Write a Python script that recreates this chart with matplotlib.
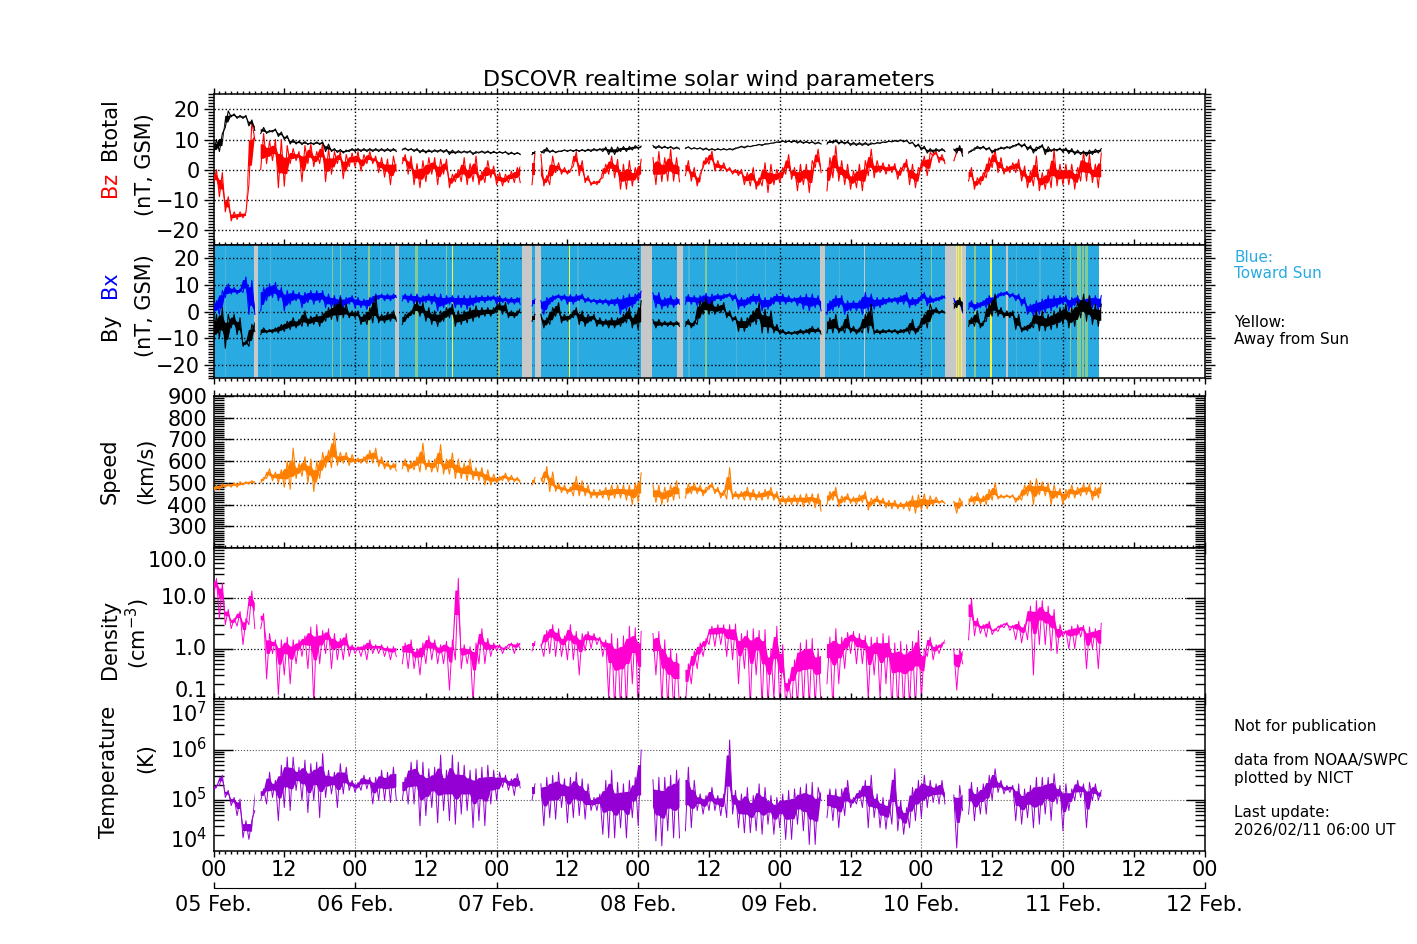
import numpy as np
import matplotlib
matplotlib.use("Agg")
import matplotlib.pyplot as plt
from matplotlib.ticker import MultipleLocator, FixedLocator, NullFormatter, LogLocator

W, H = 1417, 944
hours = np.arange(0, 151)
gaps = [(7.0,7.6),(31.1,31.6),(52.3,53.9),(54.8,55.4),(72.8,74.4),(79.1,79.7),(103.1,103.6),(124.2,125.4),(127.3,127.8)]

bt_lo = [5,6,14,17.5,17,17,14.5,13,12,12, 12.5,11,10,8.5,8.5,8.3,8.3,8.3,8.3,6, 6,5.7,5.5,6,6,6,6,6,6,6,
         6,6,6.5,6.3,6,5.6,5.5,5.7,5.8,5.7, 5,5.3,5.5,5.5,5,5.5,5.4,5.3,5.4,5.4, 5,5,5,5,5,5,5.5,5.7,5.6,6,
         6,6,6,6,6,6.2,6,5,5,6, 6,6.5,7,7,7,7,7,7,6.8,6.8, 7,6.8,6.8,6.5,6.4,6.4,6.5,6.5,6.5,7.2,
         7.2,7.6,8,8,8.5,8.8,9,9,9,8.8, 8.7,8.7,8.5,8.5,8.5,8.8,8.5,8.5,8,8, 8,8,8.5,8.7,9,9.2,9.3,9.2,8.6,7.5,
         6.5,5.5,5.7,6,6,6,5.5,4.5,5.5,6.5, 6.8,6.5,5.5,6.5,6.8,7,7.8,7.5,6.5,5.5, 7,5,6,6.2,5.8,5.3,5,5,4.5,5, 5.5]
bt_hi = [10,12,19.5,18.5,18,18,16.5,15,14,13, 13.5,12.5,11.3,10,9.5,9.3,9,9.2,9.2,8.5, 7,6.7,6.5,7,7,7,7,7,7,7,
         7,7,7.2,7,7,6.7,6.6,6.6,6.7,6.7, 6.5,6.3,6.2,6.3,6,6.2,6.2,6.1,6,6, 5.8,5.7,5.7,5.7,6,6,7.3,6.5,6.2,6.6,
         6.6,6.7,6.7,6.8,7,7,7.5,7.5,7.5,7.7, 7.7,8,7.8,7.8,8,8,7.8,7.7,7.5,7.5, 7.6,7.3,7.3,7.2,7,7,7,7,7.2,7.8,
         7.9,8,8.4,8.6,8.8,9.2,9.6,9.6,9.7,9.6, 9.4,9.3,9.1,9,9.6,9.9,9.5,9.4,9.1,9, 9,8.9,9,9.2,9.5,9.7,9.9,9.8,9.1,8.5,
         7.8,7,7,7,6.8,6.8,8,8.2,6.5,7.8, 7.8,7.4,6.8,7.5,7.7,8,8.8,8.6,8,7.5, 8.3,7.6,7,7.2,7.2,7,6.5,6.2,6.5,6.8, 7]
bz_lo = [-5,-9,-14,-17,-16.5,-16,-5,10,0,2, 3,-6,-5.5,2,3,-4,2,1,2,-4, -1.5,2,-3,1,1,-.5,2,2,-1,-2.5,
         -5,-.5,2,-1.5,-5,-6,-4,-1.5,-5,-1.5, -6,-4,-4,-5,-4,-5,-4.3,-2.7,-5,-5.4, -4.3,-4.3,-4.3,-4,-5,-5,-5.4,-5,-1,-1.5,
         -1.5,1.2,-2,-4.3,-5.2,-5,-2.7,-1.5,-2.7,-6.5, -6.5,-5.4,-3.8,-4,-4,-5,-4,-3.8,-3.8,-4, -2,-3.8,-5.4,.7,1.8,-.4,-.4,-.7,-1.5,-2,
         -5,-5.4,-6.5,-5.4,-7.6,-5,-4.3,-1.5,-3.2,-7, -5,-7.6,.7,-1,-7,-2.7,-3.8,-5,-6.5,-6, -7,-2,-2.7,-1,-1.5,-1,-3.2,-.4,-5,-6,
         -.4,-2,4.5,2.3,2,2,5.7,5.5,-3.8,-6.5, -5,-2.7,.7,-1,-1.5,-1,-1,-3.8,-6,-5.4, -7,-6.5,-6,-5.4,-5,-5,-6.5,-3.8,-3.8,-4.3, -6]
bz_hi = [0,-1,-9,-14,-14,-14,16,12,12,9.5, 10,10,8,7,6,8,8.5,6,9,7, 6,6,5,5.5,6,5,6,4.5,4,3.5,
         4.5,3,5,4.5,2,3,4,4,3.5,3.5, -1.5,0,4,2,4.5,-.5,3,1.2,-1,-1.5, -.5,.7,4,4,5.5,5,-2,4.5,2.3,.7,
         0,6,3,-2,-3.8,-3.2,1.8,4.5,3.4,1.8, 3,.7,3.4,4,4,6,4,6.8,4,3, 3,.7,-1.5,4,6.2,3,2.3,.7,.1,.1,
         -1,.7,-2.7,2.3,1.8,.1,.7,5,.7,1.8, 1.8,3,6.8,1.8,4,7.9,3,1.8,-.4,1.8, 3,6.8,3,2.3,1.8,2,.7,3.4,1.8,.7,
         4.5,5.7,6.2,5,3.8,3,7.3,7.3,.7,-2.7, -1,4,6.8,4,1.2,2.3,3.4,1.2,-.4,4.5, -1,.1,6.8,1.8,1.8,1.8,.7,6,5,1.8, 5.5]
bx_lo = [-1,-1,5.3,6.6,6.6,7.2,-1,-1,.3,4.1, 5.3,4.1,.3,2.8,4.1,1.5,3.4,2.8,3.4,1.5, 1.5,-1,1.5,2.8,1.5,1.5,.9,2.8,4.7,4.1,
         4.1,5.3,4.1,3.4,2.8,2.8,3.4,2.8,.3,1.5, 2.8,1.5,1.5,.9,2.2,3.4,3.4,4.1,2.8,3.4, 2.8,2.8,2.8,2.2,2.2,.3,-1,2.8,4.7,4.1,
         2.8,2.8,4.1,3.4,3.4,2.8,2.8,2.2,2.2,-1, .3,1.5,4.1,4,4,1.5,.9,1.5,1.5,2.8, 2.8,2.8,2.2,2.8,1.5,4.1,4.1,5.3,4.1,.9,
         1.5,2.8,2.8,.3,.9,2.8,2.8,2.8,3.4,2.2, .9,.3,1.5,.3,-1,.3,1.5,-1,.3,.3, -1,.3,.9,1.5,2.8,3.4,2.8,2.8,1.5,2.2,
         4.1,2.2,3.4,4.1,5.1,3,2.2,-.4,.9,.3, 1.5,1.5,2.8,5.3,6,5.3,4.1,2.2,-1,-1.7, -1,-.4,.3,1.5,2.8,.3,2.2,.3,.3,1.5, .3]
bx_hi = [4.1,7.9,10.4,9.1,8.5,13,11.7,2.8,9.1,10.4, 11,9.1,7.9,7.9,7.2,7.2,7.9,7.9,7.9,6.6, 6,6,5.3,6,5.3,4.7,5.3,6.6,6.6,6.6,
         6.6,6.6,6.6,6.6,6.6,6,6.6,6.6,6.6,6, 6,6,6,6,6,6,6,6,6,5.3, 5.3,5.3,6,4.7,4.7,4.1,5.3,6,6.4,6.4,
         6.4,6.4,6.6,5.3,4.7,4.7,4.7,4.7,5.3,6, 6.6,6.6,7.6,7,7,7.2,5.3,6,5.3,5.3, 6.4,6,6,6.9,6.6,6.6,6.6,6.9,6.6,5.3,
         5.3,6.6,6.6,5.3,5.3,6.6,6.6,6,5.3,6, 6.6,6.6,6,4.7,4.1,6,6,4.1,4.1,4.1, 7.2,6.6,5.3,5.3,5.3,5.3,6,7.2,5.3,5.3,
         7.2,6,5.3,6,6.4,5,4.1,4.7,4.1,3.4, 4.1,6,6,7.2,7.6,6.9,6.6,5.3,2.8,4.1, 4.7,6,6,6,6,5.3,6,5.3,6,6, 6]
by_lo = [-11.2,-9.9,-13.7,-6.1,-8.6,-13,-13,-7.4,-8.6,-8, -8,-8,-7.4,-6.7,-6.1,-5.5,-5.5,-4.8,-5.5,-3.6, -2.9,-3.6,-2.3,-2.3,-2.3,-4.8,-4.8,-4.2,-4.2,-4.2,
         -3.6,-3.6,-4.8,-2.3,-1,-1.7,-3.6,-4.8,-5.5,-3.6, -2.3,-5.5,-4.8,-4.2,-3.6,-2.3,-1.7,-1.7,-.4,-1, -2.3,-2.3,-.4,-2,-3.6,-2.9,-6.1,-4.8,-1.7,-4.2,
         -3.6,-2.3,-4.8,-5.5,-3.6,-5.5,-5.5,-6.1,-6.1,-5.5, -4.2,-6.1,-6.7,-5,-5,-6.1,-5.5,-5.5,-5.5,-5.5, -5.5,-6.1,-4.8,-1,-1,-1,-.4,-2.3,-3.6,-7.4,
         -7.4,-5.5,-4.8,-8,-8,-8,-8.4,-8.6,-8.6,-8.6, -8.4,-8.4,-8,-8.4,-8,-8,-8,-8,-8,-8.4, -8,-8,-8.4,-8.4,-8,-8,-8.4,-8,-8.4,-8.4,
         -6.1,-6.1,-1,-.8,-.5,0,1.5,.3,-5.5,-5.5, -6.1,-3.6,-1.7,-1.7,-2.3,-2.3,-6.7,-7.6,-7.2,-6.1, -7.2,-7.2,-6.7,-6.1,-4.8,-6.1,-5.5,-2.3,-3.6,-4.8, -5.5]
by_hi = [-1,1.5,-1,-1,-2.3,-11,-4.8,-2.3,-6.1,-6.7, -6.1,-4.8,-3.6,-2.3,-2.9,.3,-1.7,-1,-.4,1.5, 2.8,5.3,2.8,.3,.3,-1,1.5,6,-1,-.4,
         .3,-1.7,-1,.3,4.1,3.4,1.5,.3,.3,1.5, 2.8,.3,.3,1.5,2.2,1.5,1.5,1.5,3.4,3.4, .3,.3,2.2,0,-1,-1,-2.3,1.5,3.4,-1,
         -1,1.5,.3,-1,-1,-2.3,-2.9,-2.3,-2.3,-1, 1.5,-1,4.1,-3,-3,-2.9,-3.6,-3.6,-3.6,-3.6, -2.9,-3.6,4.1,5.3,4.1,2.8,3.4,.3,-1.7,-2.3,
         -2.3,.3,3.4,.9,.3,-4.8,-6.7,-7.4,-7.4,-6.7, -6.7,-5.5,-6.1,-6.7,-2.3,-1,-5.5,-1,-5.5,-6.1, -1,2.8,-6.7,-6.7,-6.7,-6.7,-6.7,-6.1,-2.9,-5.5,
         -1,2.8,1.5,.5,.2,3,5.3,4.7,-2.3,.3, -3.6,2.8,6.6,1.5,.3,.3,-1,-5.5,-4.2,.3, .3,-1,.3,1.5,2.8,1.5,4.1,6.6,6,2.8, 2.8]
speed_lo = [460,470,480,480,480,490,495,495,500,520, 510,500,480,470,520,530,500,460,520,570, 570,580,590,580,590,590,590,590,575,565,
            560,555,565,550,560,550,560,550,550,540, 540,520,520,510,515,510,490,490,500,510, 505,505,500,490,490,495,500,460,460,455,
            450,440,440,440,430,430,430,420,430,430, 420,400,410,410,410,410,400,410,420,430, 430,450,450,440,470,450,430,425,425,425,
            420,420,420,420,425,420,400,400,400,400, 390,400,385,370,400,420,390,410,405,400, 410,375,400,395,385,380,380,380,370,360,
            375,380,395,405,405,405,360,395,400,400, 400,400,420,425,430,430,410,420,440,400, 445,440,400,430,400,430,430,440,445,420, 430]
speed_hi = [490,495,495,500,505,505,510,515,525,565, 550,560,600,660,590,620,610,600,640,650, 730,640,640,630,615,620,650,660,620,600,
            590,610,610,600,620,683,605,610,676,610, 638,610,590,610,570,570,560,540,530,545, 535,525,520,525,525,520,575,550,500,490,
            480,530,510,490,470,470,480,490,490,490, 490,500,546,490,490,490,480,490,510,490, 495,500,490,480,500,480,465,570,460,460,
            480,470,460,470,480,460,440,440,445,445, 450,450,450,440,460,480,440,450,435,445, 460,430,440,430,420,420,410,415,440,445,
            450,440,435,420,415,415,430,430,440,455, 440,470,500,445,445,445,440,490,510,520, 505,500,490,475,470,490,480,495,495,480, 500]
dens_lo = [10,4,3,2.5,2.8,1.2,3,2.5,2.5,.25, .8,.12,.3,.2,.5,.7,.4,.08,.5,.8, .4,.6,.6,.7,.8,.7,.6,.8,.8,.7,
           .6,.7,.5,.4,.4,.3,.5,.6,.5,.5, .15,.6,.4,.5,.08,.5,.5,.7,.9,.8, 1,.8,1,.9,.9,.9,.7,.8,.7,.7,
           .6,.6,.3,.9,1,1.2,.7,.1,.06,.06, .06,.2,.06,.3,.3,.3,.08,.07,.06,.07, .08,.2,.4,.7,1.2,1.1,1.2,.7,.6,.2,
           .4,.07,.3,.07,.07,.1,.07,.07,.07,.07, .07,.07,.07,.07,.2,.06,.2,.4,.8,.5, .5,.1,.3,.1,.2,.06,.06,.06,.07,.06,
           .1,.7,.6,.8,1.3,.2,.15,.5,1.5,1.8, 2,1.7,1.9,2.2,2.6,2.3,1.5,1.3,1.5,.3, 1.2,1.2,.9,.8,1.7,1,1,1.7,.4,1, .4]
dens_hi = [25,20,6,4,5.5,4,14,10,5,2, 1.5,1.5,1.7,1.5,1.5,1.8,2.7,3,2.3,2.5, 2,1.6,2,1.2,1.1,1.2,1.5,1.2,1.2,1.1,
           1.1,1.1,1.3,1.5,1,1.3,1.8,1.5,1.2,1.4, 1.5,25,1.2,1.1,1.3,2.5,1.6,1.3,1.2,1.1, 1.3,1.3,1.4,1.4,1.4,1.2,2.3,3,2.5,1.8,
           3,2.2,2,2.2,2,1.7,1.5,2,1.6,1.8, 2.8,2.6,2.2,2,2,2.2,1.5,1,.8,.7, .5,.9,1.3,1.6,2.8,3,3,3,3.1,2,
           2.3,2.5,2.3,2.4,1,2.8,1.2,.25,.6,1.3, 1.5,1.6,1,1.1,1.7,2.5,1.7,2.1,2.2,2, 1.8,1.7,1.7,2,1.8,1.3,1.4,1.2,1.4,2.3,
           1,1.7,1.2,1.3,1.6,1,1,1,10,4, 3,3.5,2.5,3,3.3,2.9,3.5,3,7,9, 9,7,6,3,2.3,2.8,3,2.9,2.7,2.5, 3.2]
tlog_lo = [5.19,5.29,5.05,4.89,4.69,4.25,4.22,4.79,4.99,4.92, 5.05,4.59,4.85,4.79,5.19,4.99,4.75,4.99,4.65,5.05, 5.12,4.85,5.12,5.19,5.15,5.19,5.22,4.92,4.99,4.99,
           4.95,4.99,4.99,4.92,4.92,4.49,4.69,4.85,4.55,4.79, 4.59,4.52,4.72,4.79,4.45,4.59,4.49,4.92,4.99,5.25, 5.19,5.09,5.24,5,5,4.9,4.49,4.65,4.62,4.85,
           4.55,4.65,4.69,4.62,4.79,4.79,4.32,4.25,4.25,4.45, 4.25,4.65,4.49,4.5,4.5,4.19,4.09,4.39,4.25,4.25, 4.39,4.45,4.79,4.72,4.79,4.79,4.69,4.65,4.72,4.45,
           4.35,4.35,4.39,4.32,4.52,4.32,4.45,4.22,4.22,4.52, 4.39,4.12,4.12,4.99,4.65,4.59,4.45,4.69,4.85,4.92, 4.85,4.45,4.65,4.45,4.42,4.52,4.39,4.32,4.45,4.59,
           4.65,4.85,4.95,4.92,4.92,4.9,4.05,4.79,4.72,4.59, 4.72,4.72,4.99,5.15,5.12,5.15,4.59,4.52,4.65,4.45, 4.52,4.72,4.59,4.92,4.39,4.79,4.99,5.05,4.45,4.99, 4.99]
tlog_hi = [5.29,5.49,5.19,5.05,5.02,4.59,4.6,5.25,5.22,5.55, 5.39,5.69,5.85,5.85,5.65,5.79,5.72,5.75,5.92,5.59, 5.55,5.72,5.65,5.39,5.35,5.49,5.45,5.45,5.59,5.55,
           5.65,5.65,5.45,5.75,5.79,5.75,5.62,5.65,5.89,5.59, 5.89,5.75,5.69,5.59,5.62,5.65,5.69,5.59,5.55,5.49, 5.42,5.52,5.39,5.3,5.32,5.32,5.45,5.49,5.55,5.42,
           5.45,5.55,5.42,5.32,5.05,5.12,5.39,5.59,5.35,5.32, 5.39,5.45,5.99,5.4,5.4,5.45,5.45,5.49,5.59,5.75, 5.65,5.39,5.12,5.09,5.25,5.09,5.12,6.19,5.19,5.12,
           5.25,5.09,5.32,5.25,5.09,5.05,5.12,5.19,5.22,5.25, 5.32,5.35,5.25,5.22,5.22,5.22,5.22,5.39,5.05,5.19, 5.39,5.49,5.12,5.05,5,5.62,4.99,4.85,5.25,5.39,
           5.49,5.39,5.32,5.39,5.19,5.1,5.29,5.19,5.35,5.25, 5.32,5.49,5.62,5.39,5.29,5.29,5.32,5.22,5.29,5.45, 5.45,5.45,5.52,5.29,5.32,5.22,5.39,5.32,5.35,5.32, 5.19]

gray_bands = [(6.8,7.5),(30.7,31.5),(52.3,54.0),(54.5,55.5),(72.4,74.4),(78.6,79.6),(102.9,103.6),(110.3,110.5),(124.0,127.5),(134.4,134.7)]
yellow_bands = [(40.45,40.6),(60.25,60.4),(125.9,126.0),(126.2,126.3),(126.7,126.85),(131.7,131.95)]
pale_bands = [(20.1,20.3),(21.4,21.6),(26.2,26.5),(34.2,34.6),(39.4,39.6),(48.3,48.6),(83.4,83.7),(121.6,121.8),(129.0,129.2),(145.2,145.4),(146.4,147.0),(147.2,147.6),(147.8,148.2)]
faint_bands = [(2.0,2.2),(9.5,9.8),(28.2,28.4),(61.6,61.9),(80.5,80.7),(88.5,88.7),(93.5,93.7),(106,106.2),(136,136.2),(140,140.2)]

day_labels = ["05 Feb.", "06 Feb.", "07 Feb.", "08 Feb.", "09 Feb.", "10 Feb.", "11 Feb.", "12 Feb."]
DAYS = np.arange(0, 169, 24)
BLUE = "#29abe2"
FS = 15

def rect(l, t, r, b):
    return [l / W, 1 - b / H, (r - l) / W, (b - t) / H]

def zig(lo, hi):
    t = np.column_stack([hours, hours + 0.5]).ravel()
    v = np.column_stack([np.asarray(lo, float), np.asarray(hi, float)]).ravel()
    for a, b in gaps:
        v[(t > a) & (t < b)] = np.nan
    return t, v

def trace(ax, lo, hi, col, z, lw=0.9, core=(0.3, 0.7), log=False):
    lo, hi = np.asarray(lo, float), np.asarray(hi, float)
    t = np.column_stack([hours, hours + 0.5]).ravel()
    lv, hv = np.repeat(lo, 2), np.repeat(hi, 2)
    if log:
        lv, hv = np.log10(lv), np.log10(hv)
    c0, c1 = lv + core[0] * (hv - lv), lv + core[1] * (hv - lv)
    keep = np.ones_like(t, bool)
    for a, b in gaps:
        keep &= ~((t > a) & (t < b))
    f = (lambda x: 10.0 ** x) if log else (lambda x: x)
    ax.fill_between(t, f(c0), f(c1), where=keep, color=col, alpha=1, lw=0, zorder=z)
    tz, vz = zig(lo, hi)
    ax.plot(tz, vz, color=col, lw=lw, zorder=z)

plt.rcParams["font.family"] = "DejaVu Sans"
fig = plt.figure(figsize=(W / 100, H / 100), dpi=100)
L, R = 213.5, 1204.5
a1 = fig.add_axes(rect(L, 94.3, R, 245))
a2 = fig.add_axes(rect(L, 245, R, 378.3))
a3 = fig.add_axes(rect(L, 396, R, 548))
a4 = fig.add_axes(rect(L, 548, R, 699))
a5 = fig.add_axes(rect(L, 699, R, 850.5))
a6 = fig.add_axes(rect(L, 887, R, 887.5))

for ax in (a1, a2, a3, a4, a5):
    ax.set_xlim(0, 168)
    ax.xaxis.set_major_locator(MultipleLocator(12))
    ax.xaxis.set_minor_locator(MultipleLocator(1))
    ax.tick_params(axis="x", which="major", direction="out", top=True, bottom=True, length=4, width=1, labelbottom=False)
    ax.tick_params(axis="x", which="minor", direction="out", top=True, bottom=True, length=2.4, width=1)
    for s in ax.spines.values():
        s.set_linewidth(1.1)

def grid(ax, lw=1.0, col="black"):
    for d in DAYS[1:-1]:
        ax.axvline(d, color=col, ls=":", lw=lw, zorder=2)
    ax.yaxis.grid(True, which="major", color=col, ls=":", lw=lw, zorder=2)
    ax.set_axisbelow(True)

# panel 1
a1.set_ylim(-25, 25)
a1.yaxis.set_major_locator(MultipleLocator(10))
a1.yaxis.set_minor_locator(MultipleLocator(1))
grid(a1)
trace(a1, bz_lo, bz_hi, "#ff0000", 3, lw=0.8)
trace(a1, bt_lo, bt_hi, "black", 4, lw=0.8)

# panel 2
a2.set_ylim(-25, 25)
a2.yaxis.set_major_locator(MultipleLocator(10))
a2.yaxis.set_minor_locator(MultipleLocator(1))
a2.axvspan(0, 150.1, color=BLUE, lw=0, zorder=0.5)
for a, b in faint_bands:
    a2.axvspan(a, b, color="#4fb4d8", lw=0, zorder=0.6)
for a, b in gray_bands:
    a2.axvspan(a, b, color="#c8c8c8", lw=0, zorder=0.7)
for a, b in pale_bands:
    a2.axvspan(a, b, color="#86c994", lw=0, zorder=0.8)
for a, b in yellow_bands:
    a2.axvspan(a, b, color="#f5f542", lw=0, zorder=0.9)
grid(a2)
trace(a2, bx_lo, bx_hi, "#0000ff", 3, lw=0.8, core=(0.25, 0.8))
trace(a2, by_lo, by_hi, "black", 4, lw=0.8, core=(0.25, 0.75))

for ax in (a1, a2):
    ax.set_yticks([-20, -10, 0, 10, 20])
    ax.tick_params(axis="y", which="major", direction="out", left=True, right=True, length=7.2, width=1, labelsize=FS, pad=2.5)
    ax.tick_params(axis="y", which="minor", direction="out", left=True, right=True, length=4, width=1)

# panel 3
a3.set_ylim(200, 900)
a3.set_yticks([300, 400, 500, 600, 700, 800, 900])
a3.yaxis.set_minor_locator(MultipleLocator(10))
grid(a3)
trace(a3, speed_lo, speed_hi, "#ff8000", 3, lw=0.8)

# panel 4
a4.set_yscale("log")
a4.set_ylim(0.1, 100)
grid(a4, lw=0.9)
trace(a4, dens_lo, dens_hi, "#ff00d0", 3, lw=0.7, core=(0.55, 0.85), log=True)

# panel 5
a5.set_yscale("log")
a5.set_ylim(1e4, 1e7)
grid(a5, lw=0.8, col="#555555")
trace(a5, 10.0 ** np.array(tlog_lo), 10.0 ** np.array(tlog_hi), "#9400d3", 3, lw=0.7, core=(0.4, 0.8), log=True)

for ax in (a3, a4, a5):
    ax.tick_params(axis="y", which="major", direction="in", left=True, right=True, length=14, width=1, labelsize=FS, pad=4.5)
    ax.tick_params(axis="y", which="minor", direction="in", left=True, right=True, length=7.2, width=1)
for ax, vals in ((a4, [1, 10]), (a5, [1e5, 1e6])):
    ax.yaxis.set_major_locator(FixedLocator(vals))
    ax.yaxis.set_minor_locator(LogLocator(base=10, subs=range(2, 10), numticks=20))
    ax.yaxis.set_minor_formatter(NullFormatter())
    ax.set_yticklabels([])

def side_label(ax, val, text, dy):
    ax.annotate(text, xy=(0, val), xycoords=ax.get_yaxis_transform(), xytext=(-4.5, dy), textcoords="offset points",
                ha="right", va="center", fontsize=FS)

side_label(a4, 100, "100.0", -9.5)
side_label(a4, 10, "10.0", 0)
side_label(a4, 1, "1.0", 0)
side_label(a4, 0.1, "0.1", 6)
side_label(a5, 1e7, "$\\mathdefault{10^{7}}$", -10.5)
side_label(a5, 1e6, "$\\mathdefault{10^{6}}$", 0)
side_label(a5, 1e5, "$\\mathdefault{10^{5}}$", 0)
side_label(a5, 1e4, "$\\mathdefault{10^{4}}$", 8)

# bottom labels
a5.set_xticks(np.arange(0, 169, 12))
a5.set_xticklabels(["00" if i % 2 == 0 else "12" for i in range(15)])
a5.tick_params(axis="x", which="major", labelbottom=True, labelsize=FS, pad=3)

a6.set_xlim(0, 168)
a6.set_ylim(0, 1)
a6.set_yticks([])
for k in ("top", "left", "right"):
    a6.spines[k].set_visible(False)
a6.set_xticks(DAYS)
a6.set_xticklabels(day_labels)
a6.tick_params(axis="x", direction="in", length=4, width=1, labelsize=FS, pad=5.5)
a6.patch.set_alpha(0)

fig.text(709 / W, 1 - 80 / H, "DSCOVR realtime solar wind parameters", ha="center", va="center", fontsize=16)

def lab(x, y, s, col="black", size=FS, rot=90):
    fig.text(x / W, 1 - y / H, s, color=col, fontsize=size, rotation=rot, ha="center", va="center")

lab(110, 129, "Btotal")
lab(110, 184, "Bz", "#ff0000")
lab(145, 165, "(nT, GSM)")
lab(110, 285, "Bx", "#0000ff")
lab(110, 327, "By")
lab(145, 306, "(nT, GSM)")
lab(110, 471, "Speed")
lab(146, 471, "(km/s)")
lab(110, 639, "Density")
lab(138, 634, "(cm$^{-3}$)")
lab(109, 772, "Temperature")
lab(146, 758, "(K)")

def note(y, s, col="black"):
    fig.text(1234 / W, 1 - y / H, s, color=col, fontsize=11, ha="left", va="center")

note(257, "Blue:", BLUE)
note(274, "Toward Sun", BLUE)
note(323, "Yellow:")
note(340, "Away from Sun")
note(726, "Not for publication")
note(761, "data from NOAA/SWPC")
note(778, "plotted by NICT")
note(813, "Last update:")
note(830, "2026/02/11 06:00 UT")

fig.savefig("out.png", dpi=100)
